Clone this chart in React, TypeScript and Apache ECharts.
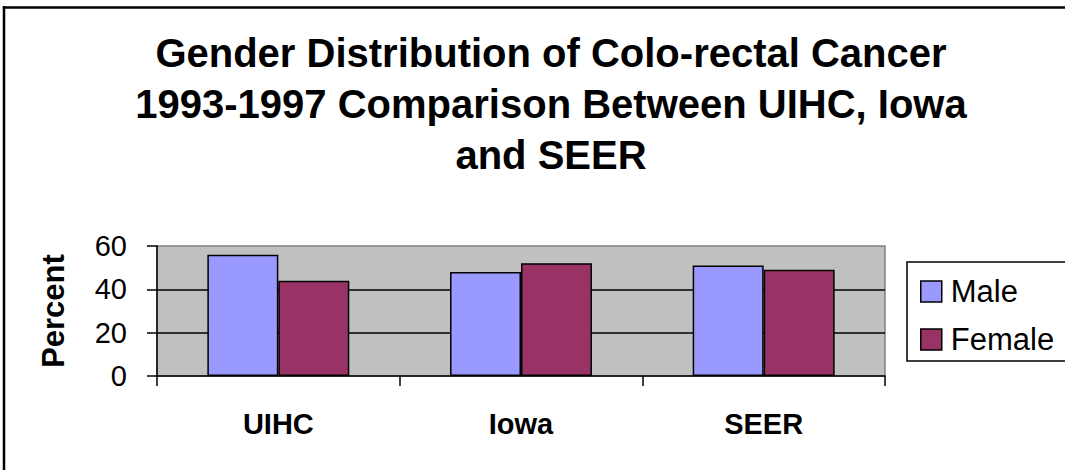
import React, { useEffect, useRef } from "react";
import * as echarts from "echarts";

const categories = ["UIHC", "Iowa", "SEER"];
const maleValues = [56, 48, 51];
const femaleValues = [44, 52, 49];
const yTicks = { min: 0, max: 60, interval: 20 };
const titleText = "Gender Distribution of Colo-rectal Cancer\n1993-1997 Comparison Between UIHC, Iowa\nand SEER";

const FONT = "'Liberation Sans', Arial, sans-serif";

export default function App() {
  const ref = useRef<HTMLDivElement>(null);
  useEffect(() => {
    if (!ref.current) return;
    const chart = echarts.init(ref.current, null, { renderer: "svg" });
    chart.setOption({
      animation: false,
      backgroundColor: "#ffffff",
      textStyle: { fontFamily: FONT },
      graphic: [
        {
          type: "line",
          shape: { x1: 2.8, y1: 7.5, x2: 1065, y2: 7.5 },
          style: { stroke: "#000", lineWidth: 2.5 },
          silent: true,
          z: 100,
        },
        {
          type: "line",
          shape: { x1: 4, y1: 6.3, x2: 4, y2: 470 },
          style: { stroke: "#000", lineWidth: 2.5 },
          silent: true,
          z: 100,
        },
      ],
      title: {
        text: titleText,
        left: 546,
        top: 22,
        textAlign: "center",
        textStyle: {
          fontFamily: FONT,
          fontWeight: "bold",
          fontSize: 40,
          lineHeight: 51,
          color: "#000",
        },
      },
      legend: {
        orient: "vertical",
        left: 907,
        top: 262,
        padding: [14, 40, 6, 13],
        itemGap: 17,
        itemWidth: 21,
        itemHeight: 21,
        icon: "rect",
        backgroundColor: "#fff",
        borderColor: "#000",
        borderWidth: 1.5,
        borderRadius: 0,
        textStyle: {
          fontFamily: FONT,
          fontSize: 31,
          lineHeight: 30,
          color: "#000",
          padding: [0, 0, 0, 4],
        },
        itemStyle: { borderColor: "#000", borderWidth: 1.5 },
      },
      grid: {
        left: 157,
        top: 246,
        width: 728,
        height: 130,
        show: true,
        backgroundColor: "#C0C0C0",
        borderColor: "#808080",
        borderWidth: 1.5,
        containLabel: false,
      },
      xAxis: {
        type: "category",
        data: categories,
        axisLine: { lineStyle: { color: "#000", width: 1.5 } },
        axisTick: { show: true, length: 10, interval: 0, lineStyle: { color: "#000", width: 1.5 } },
        axisLabel: {
          margin: 33,
          fontFamily: FONT,
          fontWeight: "bold",
          fontSize: 29,
          color: "#000",
        },
      },
      yAxis: {
        type: "value",
        min: yTicks.min,
        max: yTicks.max,
        interval: yTicks.interval,
        name: "Percent",
        nameLocation: "middle",
        nameRotate: 90,
        nameGap: 88,
        nameTextStyle: { fontFamily: FONT, fontWeight: "bold", fontSize: 31, color: "#000" },
        axisLine: { show: true, lineStyle: { color: "#000", width: 1.5 } },
        axisTick: { show: true, length: 10, lineStyle: { color: "#000", width: 1.5 } },
        axisLabel: { margin: 30, fontFamily: FONT, fontSize: 29, color: "#000" },
        splitLine: {
          show: true,
          showMaxLine: false,
          showMinLine: false,
          lineStyle: { color: "#000", width: 1.5 },
        },
      },
      series: [
        {
          name: "Male",
          type: "bar",
          data: maleValues,
          barGap: "0%",
          barCategoryGap: "41.5%",
          itemStyle: { color: "#9999FF", borderColor: "#000", borderWidth: 1.5 },
        },
        {
          name: "Female",
          type: "bar",
          data: femaleValues,
          barGap: "0%",
          barCategoryGap: "41.5%",
          itemStyle: { color: "#993366", borderColor: "#000", borderWidth: 1.5 },
        },
      ],
    });
    return () => chart.dispose();
  }, []);
  return (
    <div
      ref={ref}
      style={{ position: "fixed", left: 0, top: 0, width: 1065, height: 470, overflow: "hidden" }}
    />
  );
}
